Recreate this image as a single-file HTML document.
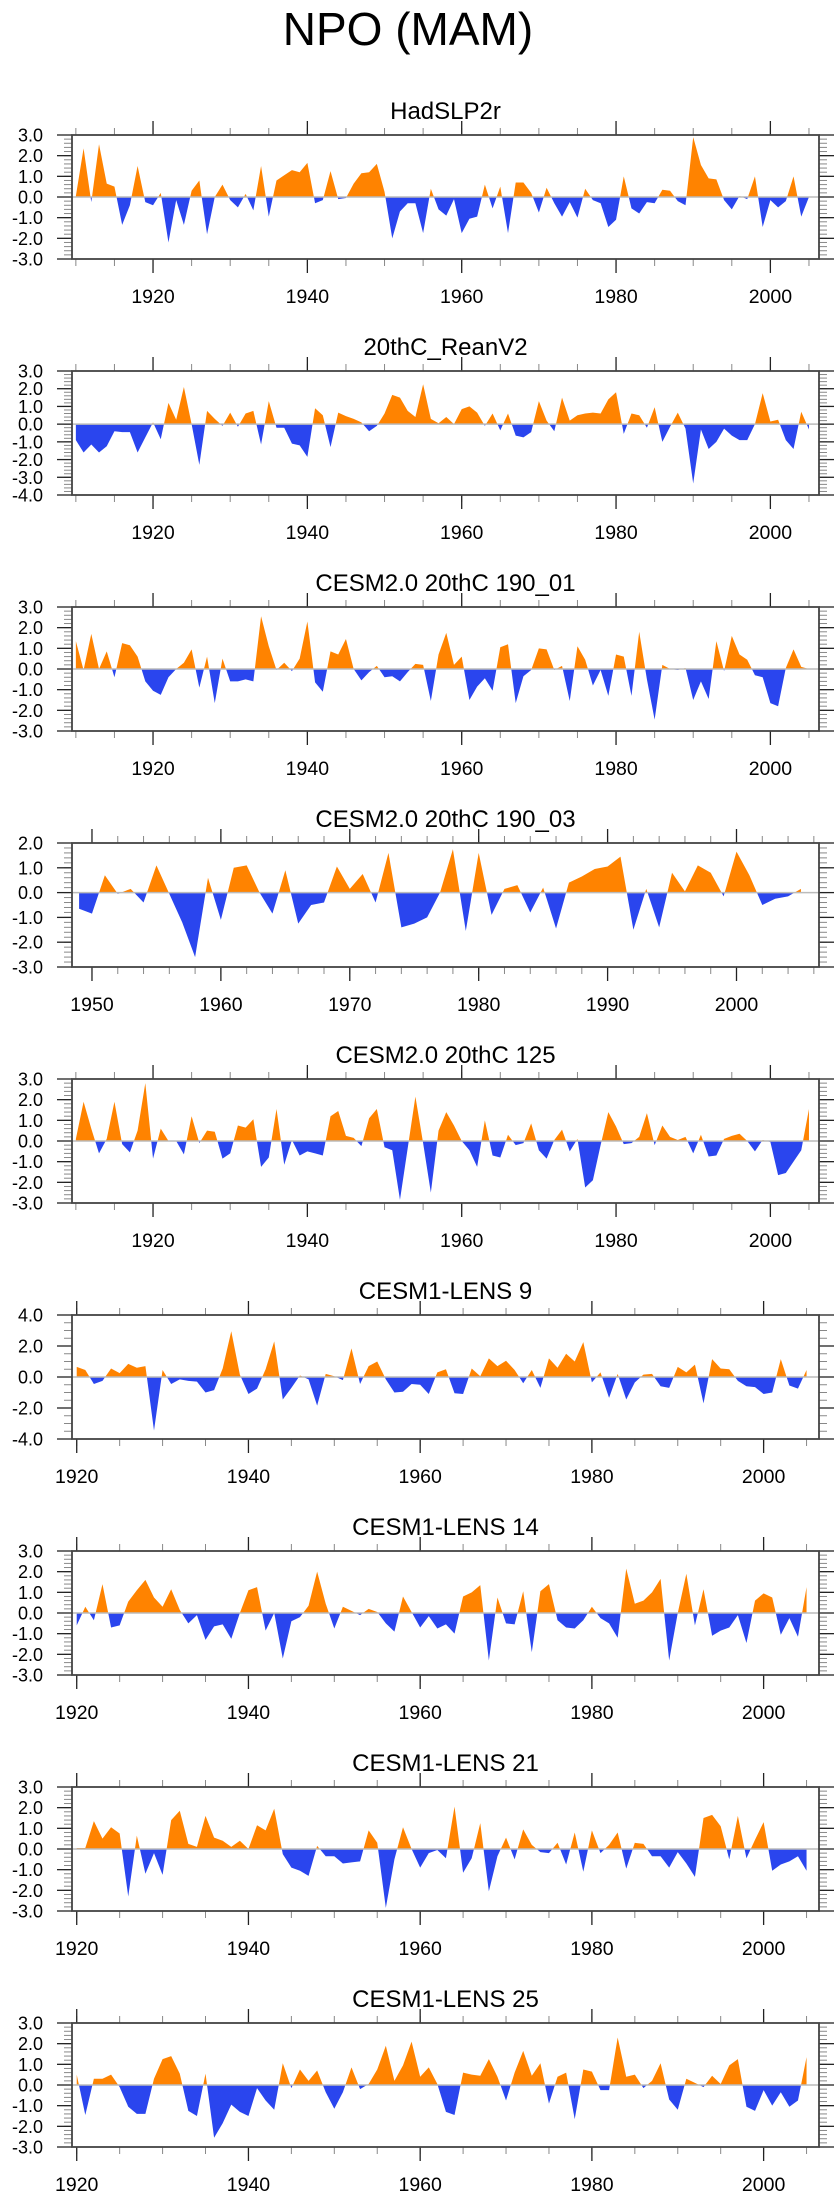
<!DOCTYPE html>
<html><head><meta charset="utf-8"><title>NPO (MAM)</title>
<style>
html,body{margin:0;padding:0;background:#fff;}
svg{display:block;font-family:"Liberation Sans",Arial,sans-serif;}
</style></head>
<body>
<svg id="chart" width="840" height="2200" viewBox="0 0 840 2200" xmlns="http://www.w3.org/2000/svg">
<text x="408" y="45" font-size="46" text-anchor="middle" fill="#000">NPO (MAM)</text>
</svg>
<script>
const panelTitles = ["HadSLP2r","20thC_ReanV2","CESM2.0 20thC 190_01","CESM2.0 20thC 190_03","CESM2.0 20thC 125","CESM1-LENS 9","CESM1-LENS 14","CESM1-LENS 21","CESM1-LENS 25"];
const startYears = [1910,1910,1910,1949,1910,1920,1920,1920,1920];
const yMaxes = [3,3,3,2,3,4,3,3,3];
const yMins = [-3,-4,-3,-3,-3,-4,-3,-3,-3];
const yLabelSteps = [1,1,1,1,1,2,1,1,1];
const yMinorSteps = [0.2,0.2,0.2,0.2,0.2,0.5,0.2,0.2,0.2];
const xMins = [1909.5,1909.5,1909.5,1948.45,1909.5,1919.45,1919.45,1919.45,1919.45];
const xMaxes = [2006.3,2006.3,2006.3,2006.4,2006.3,2006.45,2006.45,2006.45,2006.45];
const xMajorSteps = [20,20,20,10,20,20,20,20,20];
const xMinorSteps = [5,5,5,2,5,5,5,5,5];

const hadslpValues = [0.05,2.35,-0.25,2.55,0.65,0.5,-1.35,-0.4,1.5,-0.25,-0.4,0.2,-2.2,-0.15,-1.35,0.3,0.8,-1.8,0,0.6,-0.15,-0.5,0.15,-0.65,1.5,-0.95,0.8,1.05,1.3,1.2,1.65,-0.3,-0.15,1.25,-0.1,-0.05,0.65,1.15,1.2,1.6,0.25,-2.0,-0.7,-0.3,-0.3,-1.75,0.4,-0.6,-0.9,-0.1,-1.75,-1.05,-0.95,0.6,-0.55,0.5,-1.75,0.7,0.7,0.2,-0.75,0.45,-0.3,-0.95,-0.25,-1.0,0.4,-0.15,-0.3,-1.45,-1.1,1.0,-0.55,-0.8,-0.25,-0.3,0.35,0.3,-0.2,-0.4,2.9,1.55,0.9,0.85,-0.15,-0.6,0.05,-0.1,1.0,-1.45,-0.15,-0.5,-0.2,1.0,-0.95,0];
const reanV2Values = [-0.9,-1.6,-1.15,-1.6,-1.25,-0.4,-0.45,-0.45,-1.6,-0.75,0.1,-0.85,1.2,0.25,2.1,0.0,-2.3,0.75,0.3,-0.1,0.65,-0.15,0.6,0.75,-1.15,1.3,-0.2,-0.2,-1.1,-1.2,-1.85,0.9,0.5,-1.3,0.65,0.45,0.3,0.1,-0.4,-0.1,0.6,1.65,1.5,0.75,0.4,2.25,0.3,0.05,0.4,0.0,0.85,1.0,0.65,-0.1,0.6,-0.35,0.6,-0.65,-0.75,-0.45,1.3,0.2,-0.4,1.5,0.2,0.5,0.6,0.65,0.6,1.4,1.8,-0.55,0.6,0.5,-0.2,0.95,-1.0,-0.15,0.65,-0.25,-3.35,-0.3,-1.4,-1.0,-0.25,-0.65,-0.9,-0.9,0.0,1.75,0.15,0.25,-0.9,-1.4,0.7,-0.3];
const cesm2r01Values = [1.35,-0.05,1.7,0.0,0.85,-0.4,1.25,1.15,0.6,-0.6,-1.05,-1.25,-0.4,0,0.3,0.95,-0.9,0.6,-1.65,0.5,-0.6,-0.6,-0.5,-0.6,2.55,1.1,-0.05,0.3,-0.1,0.5,2.3,-0.65,-1.1,0.85,0.7,1.45,0,-0.55,-0.15,0.15,-0.4,-0.35,-0.6,-0.15,0.25,0.2,-1.55,0.7,1.75,0.2,0.6,-1.5,-0.85,-0.45,-1.05,1.05,1.2,-1.65,-0.35,-0.05,1.0,0.95,-0.05,0.15,-1.55,1.1,0.45,-0.8,-0.05,-1.3,0.7,0.6,-1.3,1.8,-0.5,-2.45,0.2,0,-0.05,0.05,-1.5,-0.6,-1.45,1.35,-0.1,1.6,0.7,0.45,-0.3,-0.4,-1.65,-1.8,0.05,0.95,0.1,0];
const cesm2r03Values = [-0.65,-0.85,0.7,-0.05,0.15,-0.4,1.1,-0.05,-1.2,-2.6,0.6,-1.1,1.0,1.1,0.0,-0.85,0.9,-1.25,-0.5,-0.4,1.05,0.15,0.75,-0.4,1.6,-1.4,-1.25,-1.0,0,1.75,-1.55,1.6,-0.9,0.15,0.3,-0.8,0.2,-1.45,0.4,0.65,0.95,1.05,1.45,-1.5,0.15,-1.4,0.8,0.05,1.1,0.8,-0.15,1.65,0.7,-0.5,-0.25,-0.15,0.15];
const cesm2r125Values = [0.1,1.9,0.6,-0.6,0.1,1.9,-0.15,-0.55,0.5,2.8,-0.85,0.6,0,0,-0.65,1.2,-0.1,0.5,0.45,-0.85,-0.6,0.75,0.65,1.05,-1.25,-0.8,1.55,-1.15,0.05,-0.7,-0.5,-0.6,-0.7,1.2,1.45,0.25,0.15,-0.25,1.1,1.55,-0.3,-0.45,-2.85,-0.35,2.15,-0.1,-2.5,0.5,1.4,0.75,0,-0.45,-1.25,1.0,-0.7,-0.8,0.3,-0.2,-0.1,0.85,-0.45,-0.85,0.05,0.55,-0.5,0.1,-2.25,-1.9,-0.2,1.4,0.7,-0.15,-0.1,0.2,1.35,-0.2,0.75,0.2,0.05,0.2,-0.6,0.3,-0.75,-0.7,0.1,0.25,0.35,0,-0.5,0.05,-0.05,-1.65,-1.55,-1.0,-0.45,1.55];
const lens9Values = [0.65,0.45,-0.45,-0.25,0.55,0.25,0.85,0.6,0.7,-3.45,0.45,-0.45,-0.15,-0.25,-0.3,-1.0,-0.85,0.55,2.95,0.15,-1.1,-0.75,0.5,2.3,-1.45,-0.7,0.1,-0.15,-1.85,0.2,0.05,-0.2,1.85,-0.45,0.7,1.0,-0.15,-1.0,-0.95,-0.45,-0.5,-1.1,0.3,0.5,-1.05,-1.1,0.55,0.05,1.2,0.7,1.05,0.45,-0.4,0.45,-0.7,1.2,0.6,1.5,1.0,2.25,-0.35,0.3,-1.35,0.2,-1.45,-0.35,0.15,0.2,-0.6,-0.7,0.65,0.3,0.8,-1.7,1.15,0.55,0.5,-0.25,-0.6,-0.65,-1.1,-1.0,1.15,-0.55,-0.75,0.45];
const lens14Values = [-0.6,0.3,-0.35,1.4,-0.7,-0.6,0.55,1.1,1.6,0.75,0.3,1.15,0.15,-0.5,-0.1,-1.3,-0.65,-0.55,-1.25,0,1.1,1.25,-0.85,0,-2.2,-0.4,-0.2,0.35,2.0,0.45,-0.75,0.3,0.1,-0.1,0.2,0.05,-0.5,-0.9,0.8,0.05,-0.7,-0.15,-0.75,-0.55,-1.0,0.8,1.0,1.35,-2.3,0.75,-0.5,-0.55,1.05,-1.9,1.05,1.4,-0.35,-0.7,-0.75,-0.35,0.3,-0.25,-0.5,-1.2,2.15,0.45,0.6,1.0,1.65,-2.3,0,1.9,-0.6,1.15,-1.1,-0.85,-0.7,-0.1,-1.45,0.6,0.95,0.75,-1.05,-0.25,-1.15,1.25];
const lens21Values = [0.05,0.05,1.35,0.5,1.05,0.75,-2.3,0.65,-1.2,-0.2,-1.25,1.4,1.85,0.25,0.1,1.6,0.55,0.4,0.1,0.4,0,1.15,0.9,1.95,-0.25,-0.9,-1.05,-1.3,0.15,-0.35,-0.35,-0.7,-0.65,-0.6,0.9,0.3,-2.85,-0.5,1.05,0,-0.9,-0.2,-0.05,-0.45,2.05,-1.15,-0.45,1.25,-2.05,-0.35,0.55,-0.5,0.95,0.2,-0.15,-0.2,0.3,-0.75,0.8,-1.1,0.9,-0.2,0.2,0.8,-0.95,0.3,0.25,-0.35,-0.35,-0.9,-0.15,-0.7,-1.35,1.5,1.65,1.1,-0.5,1.6,-0.45,0.45,1.3,-1.05,-0.75,-0.6,-0.35,-1.05];
const lens25Values = [0.5,-1.45,0.3,0.3,0.5,-0.1,-1.05,-1.4,-1.4,0.3,1.25,1.4,0.55,-1.25,-1.5,0.55,-2.55,-1.85,-0.95,-1.3,-1.5,-0.15,-0.75,-1.2,1.05,-0.15,0.75,0.2,0.7,-0.35,-1.15,-0.35,0.85,-0.2,0.05,0.75,1.9,0.2,0.95,2.1,0.4,0.85,0.05,-1.3,-1.45,0.6,0.5,0.45,1.25,0.4,-0.75,0.6,1.65,0.45,1.05,-0.9,0.4,0.6,-1.65,0.75,0.65,-0.25,-0.25,2.3,0.4,0.5,-0.15,0.2,1.05,-0.7,-1.2,0.3,0.1,-0.1,0.45,0.05,0.95,1.25,-1.05,-1.25,-0.25,-1.0,-0.35,-1.05,-0.75,1.35];

const allValues = [hadslpValues,reanV2Values,cesm2r01Values,cesm2r03Values,cesm2r125Values,lens9Values,lens14Values,lens21Values,lens25Values];

const NS = "http://www.w3.org/2000/svg";
const svg = document.getElementById('chart');
const BOX_L = 72, BOX_R = 819, BOX_H = 124, TOP0 = 135, STRIDE = 236;
function mk(tag, attrs, parent){
  const e = document.createElementNS(NS, tag);
  for (const k in attrs) e.setAttribute(k, attrs[k]);
  parent.appendChild(e);
  return e;
}
function fmt(v){ return (Math.abs(v)<1e-9?0:v).toFixed(1); }

for (let p = 0; p < allValues.length; p++) {
  const vals = allValues[p];
  const top = TOP0 + p*STRIDE, bot = top + BOX_H;
  const xMin = xMins[p], xMax = xMaxes[p], yMax = yMaxes[p], yMin = yMins[p];
  const xs = yr => BOX_L + (yr - xMin)/(xMax - xMin)*(BOX_R - BOX_L);
  const ys = v => top + (yMax - v)/(yMax - yMin)*BOX_H;

  const g = document.createElementNS(NS,'g');
  
  
  svg.appendChild(g);

  const t = mk('text', {x:445.5, y:top-16, 'font-size':24, 'text-anchor':'middle', fill:'#000'}, g);
  
  
  t.textContent = panelTitles[p];

  // clip paths
  const y0 = ys(0);
  const cpU = mk('clipPath', {id:'cu'+p}, g);
  mk('rect', {x:BOX_L, y:top, width:BOX_R-BOX_L, height:y0-top}, cpU);
  const cpD = mk('clipPath', {id:'cd'+p}, g);
  mk('rect', {x:BOX_L, y:y0, width:BOX_R-BOX_L, height:bot-y0}, cpD);

  let d = 'M' + xs(startYears[p]).toFixed(2) + ',' + y0.toFixed(2);
  for (let i = 0; i < vals.length; i++) d += 'L' + xs(startYears[p]+i).toFixed(2) + ',' + ys(vals[i]).toFixed(2);
  d += 'L' + xs(startYears[p]+vals.length-1).toFixed(2) + ',' + y0.toFixed(2) + 'Z';
  const pos = mk('path', {d:d, fill:'#ff8300', 'clip-path':'url(#cu'+p+')'}, g);
  
  
  const neg = mk('path', {d:d, fill:'#2a45ee', 'clip-path':'url(#cd'+p+')'}, g);
  
  

  const zl = mk('line', {x1:BOX_L, x2:BOX_R, y1:y0, y2:y0, stroke:'#bbbbbb', 'stroke-width':1.5}, g);
  
  

  // y ticks
  const nMin = Math.round((yMax-yMin)/yMinorSteps[p]);
  for (let i = 0; i <= nMin; i++) {
    const v = yMin + i*yMinorSteps[p];
    const y = ys(v);
    mk('line', {x1:BOX_L-8, x2:BOX_L, y1:y, y2:y, stroke:'#888', 'stroke-width':1}, g);
    mk('line', {x1:BOX_R, x2:BOX_R+8, y1:y, y2:y, stroke:'#888', 'stroke-width':1}, g);
  }
  for (let v = yMin; v <= yMax + 1e-9; v += yLabelSteps[p]) {
    const y = ys(v);
    mk('line', {x1:BOX_L-15, x2:BOX_L, y1:y, y2:y, stroke:'#222', 'stroke-width':1.3}, g);
    mk('line', {x1:BOX_R, x2:BOX_R+15, y1:y, y2:y, stroke:'#222', 'stroke-width':1.3}, g);
    const yl = mk('text', {x:43, y:y+6.5, 'font-size':18, 'text-anchor':'end', fill:'#000'}, g);
    
    
    yl.textContent = fmt(v);
  }
  // x ticks
  const firstMinor = Math.ceil(xMin / xMinorSteps[p]) * xMinorSteps[p];
  for (let yr = firstMinor; yr <= xMax; yr += xMinorSteps[p]) {
    const x = xs(yr);
    mk('line', {x1:x, x2:x, y1:top-7, y2:top, stroke:'#888', 'stroke-width':1}, g);
    mk('line', {x1:x, x2:x, y1:bot, y2:bot+7, stroke:'#888', 'stroke-width':1}, g);
  }
  const firstMajor = Math.ceil(xMin / xMajorSteps[p]) * xMajorSteps[p];
  for (let yr = firstMajor; yr <= xMax; yr += xMajorSteps[p]) {
    const x = xs(yr);
    mk('line', {x1:x, x2:x, y1:top-14, y2:top, stroke:'#222', 'stroke-width':1.3}, g);
    mk('line', {x1:x, x2:x, y1:bot, y2:bot+14, stroke:'#222', 'stroke-width':1.3}, g);
    const xl = mk('text', {x:x, y:bot+44, 'font-size':19.5, 'text-anchor':'middle', fill:'#000'}, g);
    
    
    xl.textContent = String(yr);
  }
  const frame = mk('rect', {x:BOX_L, y:top, width:BOX_R-BOX_L, height:BOX_H, fill:'none', stroke:'#444', 'stroke-width':1.8}, g);
  
  
}
</script>
</body></html>
